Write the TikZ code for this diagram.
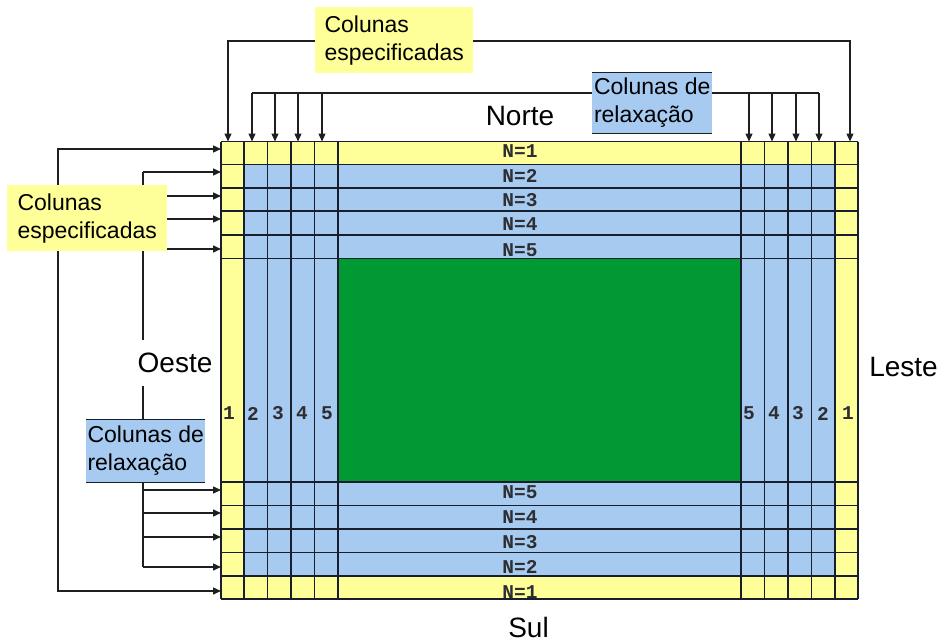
\documentclass[tikz,border=0pt]{standalone}
\usepackage{fontspec}
\setmainfont{Liberation Sans}
\newfontfamily\monofnt{Liberation Mono}
\usetikzlibrary{arrows.meta}
\definecolor{cyel}{RGB}{255,255,153}
\definecolor{cblu}{RGB}{166,202,240}
\definecolor{cgrn}{RGB}{0,153,51}
\definecolor{cline}{RGB}{25,30,45}
\definecolor{cnum}{RGB}{45,45,50}
\begin{document}
\begin{tikzpicture}[x=1pt,y=-1pt,
  gridline/.style={draw=cline,line width=1.3pt},
  conn/.style={draw=black!88,line width=1.4pt},
  arr/.style={conn,-{Triangle[length=8pt,width=7pt]}},
  arrb/.style={conn,{Triangle[length=8pt,width=7pt]}-{Triangle[length=8pt,width=7pt]}},
  lbl/.style={font=\fontsize{23}{28}\selectfont,align=left,inner sep=0pt,anchor=north west},
  compass/.style={font=\fontsize{28}{32}\selectfont,inner sep=2pt},
  nlab/.style={font=\monofnt\bfseries\fontsize{19.5}{20}\selectfont,text=cnum,inner sep=0pt},
  rim/.style={draw=cline,line width=0.9pt}
]
\useasboundingbox (0,0) rectangle (943,642);

% ---------- grid fills ----------
\coordinate (gNW) at (221,141.5);
\coordinate (gSE) at (858,599);
\fill[cblu] (gNW) rectangle (gSE);
\fill[cyel] (221,141.5) rectangle (858,164.5);
\fill[cyel] (221,576) rectangle (858,599);
\fill[cyel] (221,141.5) rectangle (244,599);
\fill[cyel] (835,141.5) rectangle (858,599);

% ---------- row labels (clipped to the grid) ----------
\begin{scope}
  \clip (338,141.5) rectangle (741,599);
  \foreach \y/\t [count=\i] in {151/1,176/2,200/3,224/4,250/5,492/5,517/4,542/3,567/2,592/1}
    \node[nlab] (row\i) at (520,\y) {N=\t};
\end{scope}

% ---------- grid lines ----------
\foreach \x in {221,244,267.5,291,314.5,338,741,764.5,788,811.5,835,858}
  \draw[gridline] (\x,141.5) -- (\x,599);
\foreach \y in {141.5,164.5,188,211,235,258.3,482,505.5,529,552.5,576,599}
  \draw[gridline] (221,\y) -- (858,\y);

% ---------- interior ----------
\filldraw[fill=cgrn,gridline] (338,258.3) rectangle (741,482);

% ---------- column labels ----------
\foreach \x/\t [count=\i] in {229/1,253/2,278/3,302/4,327/5,749/5,774/4,798/3,823/2,848/1}
  \node[nlab] (col\i) at (\x,413.5) {\t};

% ---------- top connectors ----------
\coordinate (tsL) at (228,41);
\coordinate (tsR) at (850,41);
\coordinate (tsLt) at (228,141.5);
\coordinate (tsRt) at (850,141.5);
\draw[arrb,line join=miter] (tsLt) -- (tsL) -- (tsR) -- (tsRt);

\foreach \x [count=\i] in {252,275,298,322,749,772,796,819}{
  \coordinate (tr\i) at (\x,93);
  \coordinate (trt\i) at (\x,141.5);
  \draw[arr] (tr\i) -- (trt\i);
}
\draw[conn] (tr1) -- (tr8);

% ---------- left connectors ----------
\coordinate (lo1) at (58,149);
\coordinate (lo2) at (58,591);
\coordinate (lo1t) at (221,149);
\coordinate (lo2t) at (221,591);
\draw[arrb,line join=miter] (lo1t) -- (lo1) -- (lo2) -- (lo2t);

\foreach \y [count=\i] in {172,196,219,249,490,513,537,567}{
  \coordinate (li\i) at (143,\y);
  \coordinate (lit\i) at (221,\y);
  \draw[arr] (li\i) -- (lit\i);
}
\draw[conn] (li1) -- (li8);

% ---------- label boxes ----------
\node[lbl,fill=cyel,minimum width=158pt,minimum height=66pt] (specT) at (315,7) {Colunas\\especificadas};
\node[lbl,fill=cyel,minimum width=160pt,minimum height=66pt] (specL) at (7,185) {Colunas\\especificadas};
\node[lbl,fill=cblu,minimum width=120pt,minimum height=61pt] (relT) at (592,72) {Colunas de\\relaxação};
\node[lbl,fill=cblu,minimum width=119pt,minimum height=63pt] (relL) at (86,419) {Colunas de\\relaxação};
\draw[rim] (relT.north west) -- (relT.north east);
\draw[rim] (relT.south west) -- (relT.south east);
\draw[rim] (relL.north west) -- (relL.north east);
\draw[rim] (relL.south west) -- (relL.south east);

% ---------- compass labels ----------
\node[compass] (norte) at (520,116.5) {Norte};
\node[compass,inner sep=0pt] (sul) at (528.5,627) {Sul};
\node[compass,fill=white,inner xsep=2pt,inner ysep=13pt] (oeste) at (175,363) {Oeste};
\node[compass] (leste) at (903.5,367) {Leste};
\end{tikzpicture}
\end{document}
